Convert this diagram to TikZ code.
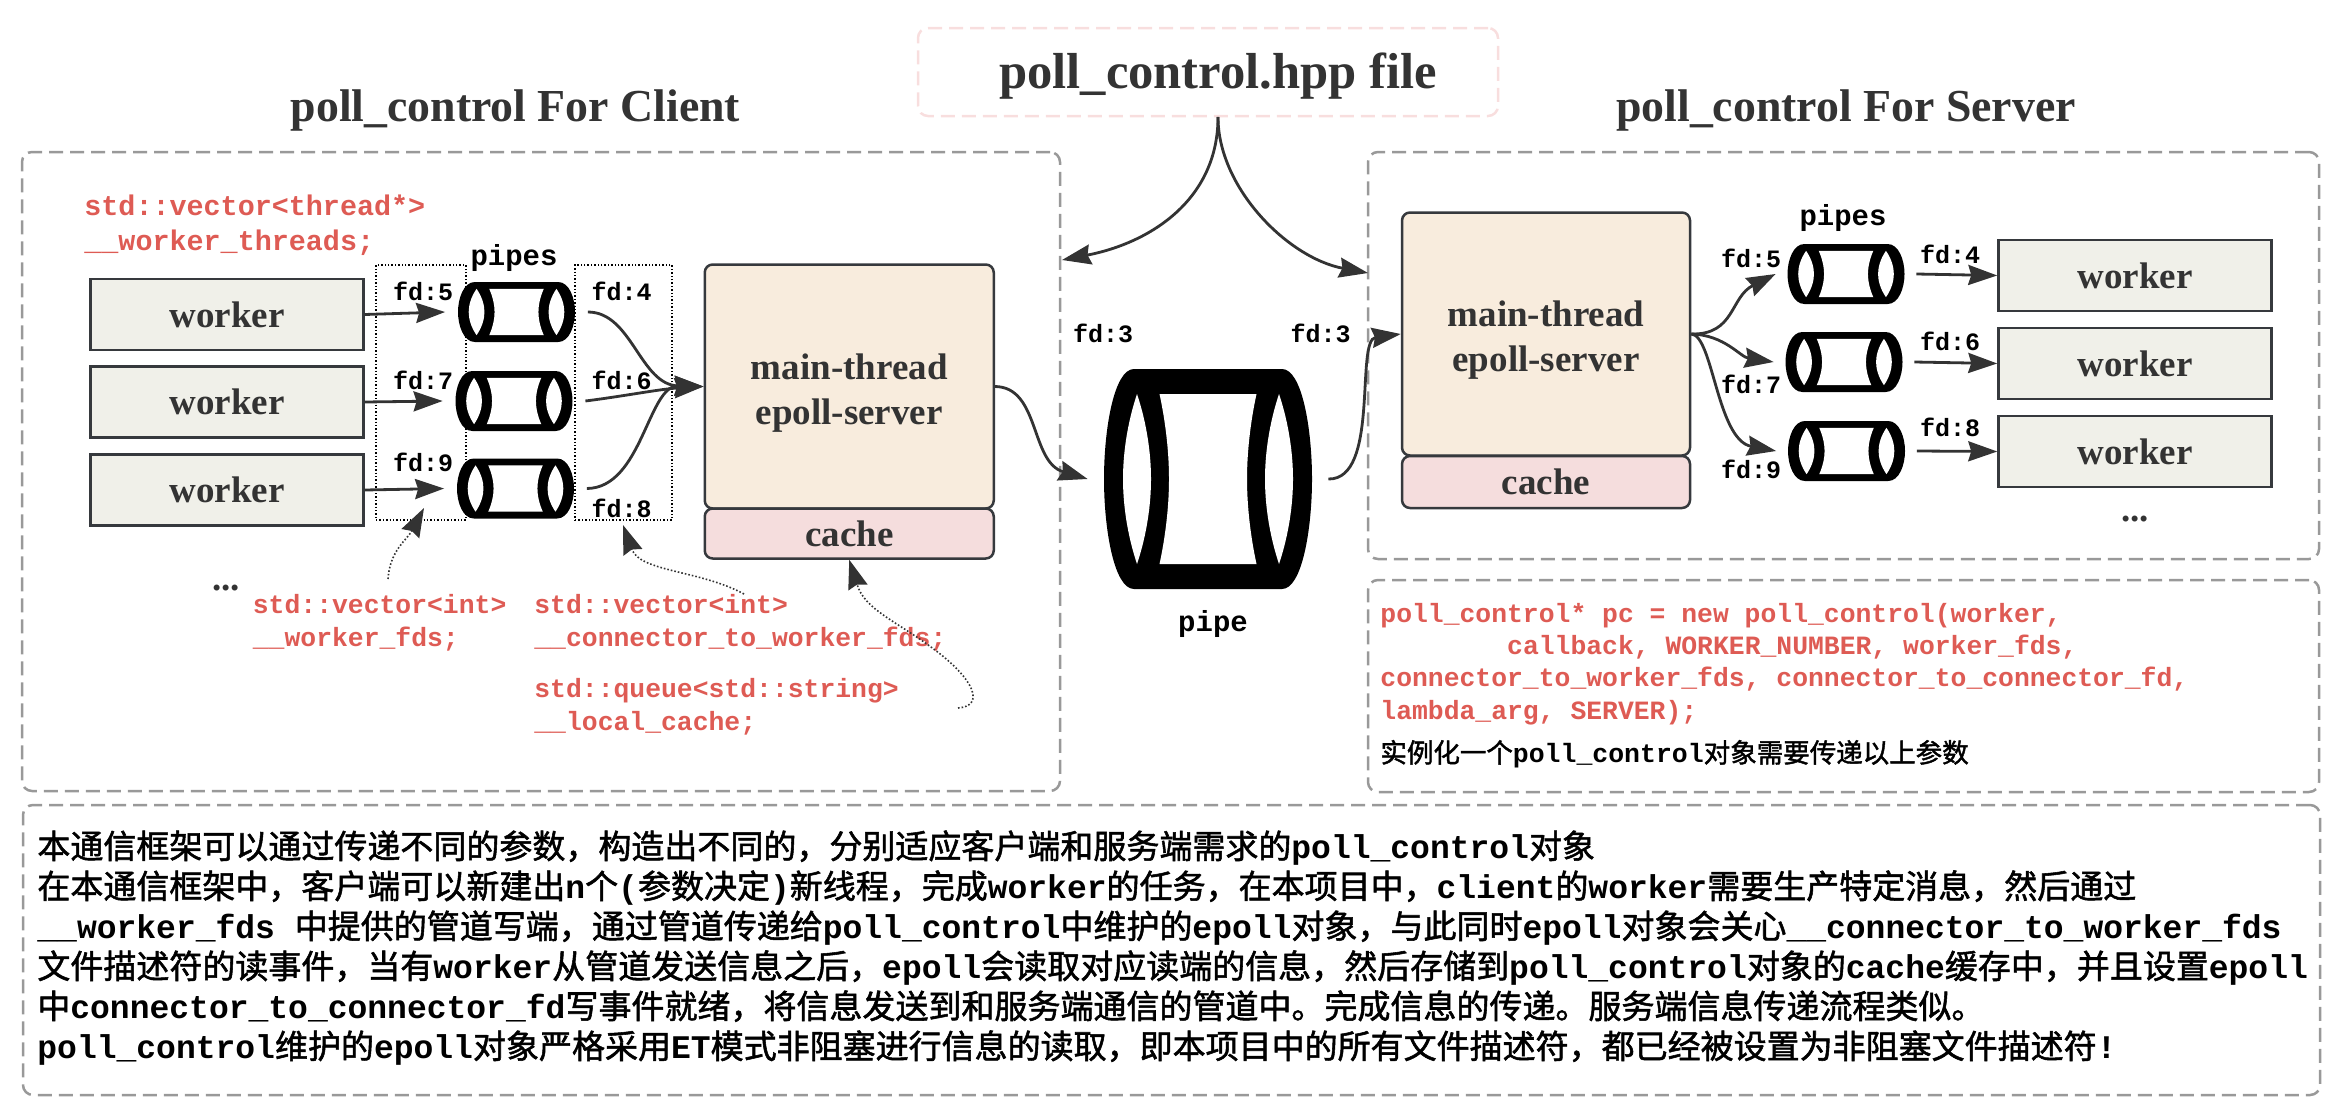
\documentclass[tikz,border=0pt]{standalone}
\usepackage{fontspec}
\setmainfont{Liberation Serif}
\setmonofont{Liberation Mono}
\newfontfamily\cjk[FakeBold=1.6]{Noto Sans CJK SC}
\usetikzlibrary{arrows.meta}
\definecolor{mygrey}{HTML}{999999}
\definecolor{mypink}{HTML}{F8DEDE}
\definecolor{myred}{HTML}{DE5B54}
\definecolor{myink}{HTML}{333333}
\definecolor{myedge}{HTML}{36393D}
\definecolor{workerfill}{HTML}{F0F0E9}
\definecolor{mainfill}{HTML}{F8ECDD}
\definecolor{cachefill}{HTML}{F5DDDD}
\newcommand{\zh}[1]{{\cjk\mdseries #1}}
\tikzset{
	dashbox/.style={draw=mygrey,line width=1.25pt,dash pattern=on 7pt off 3.5pt,rounded corners=5pt,inner sep=0pt},
	dotbox/.style={draw=black,line width=0.7pt,densely dotted,inner sep=0pt},
	worker/.style={draw=myedge,line width=1.25pt,fill=workerfill,minimum width=136.5pt,minimum height=35.5pt,inner sep=0pt,text=myink,font=\bfseries\fontsize{18.5}{22}\selectfont},
	mainbox/.style={draw=myedge,line width=1.25pt,fill=mainfill,rounded corners=4pt,minimum width=144.5pt,minimum height=122pt,inner sep=0pt},
	mainlabel/.style={inner sep=0pt,align=center,text=myink,font=\bfseries\fontsize{18.5}{22.5}\selectfont},
	cachebox/.style={draw=myedge,line width=1.25pt,fill=cachefill,rounded corners=4pt,minimum width=144.5pt,minimum height=25pt,inner sep=0pt,text=myink,font=\bfseries\fontsize{18.5}{22}\selectfont},
	title/.style={inner sep=0pt,text=myink,font=\bfseries\fontsize{22.9}{26}\selectfont},
	fdlabel/.style={inner sep=0pt,font=\ttfamily\bfseries\fontsize{12.5}{15}\selectfont},
	pipelabel/.style={inner sep=0pt,font=\ttfamily\bfseries\fontsize{14.5}{17}\selectfont},
	code/.style={anchor=west,align=left,inner sep=0pt,text=myred,font=\ttfamily\bfseries\fontsize{13.2}{16.5}\selectfont},
	pipeslot/.style={inner sep=0pt,minimum width=71pt,minimum height=30pt},
	pipesmall/.style={xscale=0.5625,yscale=0.2727},
	link/.style={->,color=myink,line width=1.4pt},
	note/.style={->,color=myink,line width=0.8pt,densely dotted},
	pipecyl/.pic={
		\fill[black] (-74,-110) .. controls (-94,-110) and (-104,-50) .. (-104,0) .. controls (-104,50) and (-94,110) .. (-74,110)
			-- (74,110) .. controls (94,110) and (104,50) .. (104,0) .. controls (104,-50) and (94,-110) .. (74,-110) -- cycle;
		\fill[white] (-71,-85) .. controls (-81,-55) and (-85,-25) .. (-85,0) .. controls (-85,25) and (-81,55) .. (-71,85)
			.. controls (-61,55) and (-57,25) .. (-57,0) .. controls (-57,-25) and (-61,-55) .. (-71,-85) -- cycle;
		\fill[white] (71,-85) .. controls (81,-55) and (85,-25) .. (85,0) .. controls (85,25) and (81,55) .. (71,85)
			.. controls (61,55) and (57,25) .. (57,0) .. controls (57,-25) and (61,-55) .. (71,-85) -- cycle;
		\fill[white] (-48.5,-85) -- (48.5,-85) .. controls (42,-55) and (39,-25) .. (39,0) .. controls (39,25) and (42,55) .. (48.5,85)
			-- (-48.5,85) .. controls (-42,55) and (-39,25) .. (-39,0) .. controls (-39,-25) and (-42,-55) .. (-48.5,-85) -- cycle;
	}
}

\begin{document}
\begin{tikzpicture}[>={Stealth[length=14.5pt,width=10pt,inset=1.5pt]},x=0.5pt,y=-0.5pt]
	\useasboundingbox (0,0) rectangle (2332,1108);

	% Draw the outer frames and titles
	\node[dashbox,draw=mypink,minimum width=290pt,minimum height=44pt] (hpp) at (1208,72) {};
	\node[inner sep=0pt,text=myink,font=\bfseries\fontsize{25.3}{28}\selectfont] (hpptitle) at (1218,76) {poll\_control.hpp file};
	\node[title] (clienttitle) at (515.5,110) {poll\_control For Client};
	\node[title] (servertitle) at (1846,110) {poll\_control For Server};
	\node[dashbox,minimum width=519pt,minimum height=319.5pt] (clientbox) at (541,471.5) {};
	\node[dashbox,minimum width=475.5pt,minimum height=203.5pt] (serverbox) at (1843.5,355.5) {};
	\node[dashbox,minimum width=475.5pt,minimum height=106pt] (codebox) at (1843.5,686) {};
	\node[dashbox,minimum width=1148.5pt,minimum height=145pt] (textbox) at (1171.5,950) {};

	% Draw the client side
	\node[dotbox,minimum width=45pt,minimum height=127.5pt] (cleftdots) at (421,392.5) {};
	\node[dotbox,minimum width=48.5pt,minimum height=127.5pt] (crightdots) at (623.5,392.5) {};
	\foreach \i/\y/\px/\py in {1/314.5/516.5/312,2/402/514/401,3/490/515.5/488.5} {
		\node[worker] (cworker\i) at (227,\y) {worker};
		\node[pipeslot] (cpipe\i) at (\px,\py) {};
		\pic[pipesmall] at (cpipe\i) {pipecyl};
		\draw[link] (cworker\i.east) -- (cpipe\i.west);
	}
	\node[mainbox] (cmain) at (849.25,386.5) {};
	\node[mainlabel] (cmainlabel) at (849.25,393) {main-thread\\epoll-server};
	\node[cachebox] (ccache) at (849.25,533.5) {cache};

	\draw[link] (cpipe1.east) .. controls (632,312) and (640,385) .. (cmain.west);
	\draw[link] (cpipe2.east) .. controls (625,396) and (660,389) .. (cmain.west);
	\draw[link] (cpipe3.east) .. controls (642,488) and (648,385) .. (cmain.west);

	\node[pipelabel] (cpipes) at (514,258) {pipes};
	\foreach \t/\x/\y in {5/423/291,7/423/380,9/423/462,4/621.5/291,6/621.5/380,8/621.5/508} {
		\node[fdlabel] (cfd\t) at (\x,\y) {fd:\t};
	}
	\node[inner sep=0pt,text=myink,font=\bfseries\fontsize{18.5}{22}\selectfont] (cdots) at (226,588) {...};

	% Draw the code labels on the client side
	\node[code,font=\ttfamily\bfseries\fontsize{14.2}{17.5}\selectfont] (cthreads) at (84,225) {std::vector<thread*>\\\_\_worker\_threads;};
	\node[code] (cworkerfds) at (252.5,622.5) {std::vector<int>\\\_\_worker\_fds;};
	\node[code] (cconnfds) at (534,622.5) {std::vector<int>\\\_\_connector\_to\_worker\_fds;};
	\node[code] (clocal) at (534,706.5) {std::queue<std::string>\\\_\_local\_cache;};

	\coordinate (cworkerfdsin) at (388,579);
	\coordinate (cworkerfdstip) at (424,508);
	\coordinate (cconnfdsin) at (744,594);
	\coordinate (cconnfdstip) at (623,525);
	\coordinate (clocalin) at (958,708);
	\draw[note] (cworkerfdsin) .. controls (390,550) and (407,540) .. (cworkerfdstip);
	\draw[note] (cconnfdsin) .. controls (700,570) and (640,572) .. (cconnfdstip);
	\draw[note] (clocalin) .. controls (985,706) and (975,680) .. (935,650) .. controls (895,620) and (865,610) .. (ccache.south);

	% Draw the pipe in the middle
	\node[pipeslot,minimum width=120pt,minimum height=110pt] (bigpipe) at (1208,479) {};
	\pic at (bigpipe) {pipecyl};
	\node[pipelabel] (bigpipelabel) at (1213,624) {pipe};
	\node[fdlabel] (fdthreeleft) at (1103,333) {fd:3};
	\node[fdlabel] (fdthreeright) at (1320.5,333) {fd:3};

	% Draw the server side
	\node[mainbox,minimum width=144pt,minimum height=121.5pt] (smain) at (1546,334) {};
	\node[mainlabel] (smainlabel) at (1546,340) {main-thread\\epoll-server};
	\node[cachebox,minimum width=144pt,minimum height=26pt] (scache) at (1546,482) {cache};
	\foreach \i/\y/\px/\py in {1/275.5/1846/274,2/363.5/1844/362,3/451.5/1846.5/451} {
		\node[worker] (sworker\i) at (2135,\y) {worker};
		\node[pipeslot,minimum width=70pt] (spipe\i) at (\px,\py) {};
		\pic[pipesmall] at (spipe\i) {pipecyl};
		\draw[link] (spipe\i.east) -- (sworker\i.west);
	}
	\draw[link] (smain.east) .. controls (1735,335) and (1730,297) .. (spipe1.west);
	\draw[link] (smain.east) .. controls (1725,335) and (1740,357) .. (spipe2.west);
	\draw[link] (smain.east) .. controls (1713,335) and (1717,440) .. (spipe3.west);

	\node[pipelabel] (spipes) at (1843,218) {pipes};
	\foreach \t/\x/\y in {5/1751/258,7/1751/384,9/1751/469.5,4/1950/254,6/1950/341,8/1950/427.5} {
		\node[fdlabel] (sfd\t) at (\x,\y) {fd:\t};
	}
	\node[inner sep=0pt,text=myink,font=\bfseries\fontsize{18.5}{22}\selectfont] (sdots) at (2135,519) {...};

	% Draw the links across the picture
	\coordinate (hppout) at (1218,117);
	\coordinate (clienttip) at (1062,260);
	\coordinate (servertip) at (1368,273);
	\draw[link] (hppout) .. controls (1218,200) and (1150,243) .. (clienttip);
	\draw[link] (hppout) .. controls (1218,188) and (1288,258) .. (servertip);
	\draw[link] (cmain.east) .. controls (1040,387) and (1030,462) .. (bigpipe.west);
	\draw[link] (bigpipe.east) .. controls (1380,480) and (1355,340) .. (smain.west);

	% Draw the constructor call
	\node[code,font=\ttfamily\bfseries\fontsize{13.2}{16.2}\selectfont] (pccode) at (1380,664) {poll\_control* pc = new poll\_control(worker,\\
		~~~~~~~~callback, WORKER\_NUMBER, worker\_fds,\\
		connector\_to\_worker\_fds, connector\_to\_connector\_fd,\\
		lambda\_arg, SERVER);};
	\node[anchor=west,inner sep=0pt,font=\ttfamily\bfseries\fontsize{13.25}{16}\selectfont] (pcnote) at (1380,754) {\zh{实例化一个}poll\_control\zh{对象需要传递以上参数}};

	% Draw the description
	\node[anchor=north west,align=left,inner sep=0pt,font=\ttfamily\bfseries\fontsize{16.5}{20}\selectfont] (desc) at (37,830) {\zh{本通信框架可以通过传递不同的参数，构造出不同的，分别适应客户端和服务端需求的}poll\_control\zh{对象}\\
		\zh{在本通信框架中，客户端可以新建出}n\zh{个}(\zh{参数决定})\zh{新线程，完成}worker\zh{的任务，在本项目中，}client\zh{的}worker\zh{需要生产特定消息，然后通过}\\
		\_\_worker\_fds \zh{中提供的管道写端，通过管道传递给}poll\_control\zh{中维护的}epoll\zh{对象，与此同时}epoll\zh{对象会关心}\_\_connector\_to\_worker\_fds\\
		\zh{文件描述符的读事件，当有}worker\zh{从管道发送信息之后，}epoll\zh{会读取对应读端的信息，然后存储到}poll\_control\zh{对象的}cache\zh{缓存中，并且设置}epoll\\
		\zh{中}connector\_to\_connector\_fd\zh{写事件就绪，将信息发送到和服务端通信的管道中。完成信息的传递。服务端信息传递流程类似。}\\
		poll\_control\zh{维护的}epoll\zh{对象严格采用}ET\zh{模式非阻塞进行信息的读取，即本项目中的所有文件描述符，都已经被设置为非阻塞文件描述符}!};
\end{tikzpicture}
\end{document}
